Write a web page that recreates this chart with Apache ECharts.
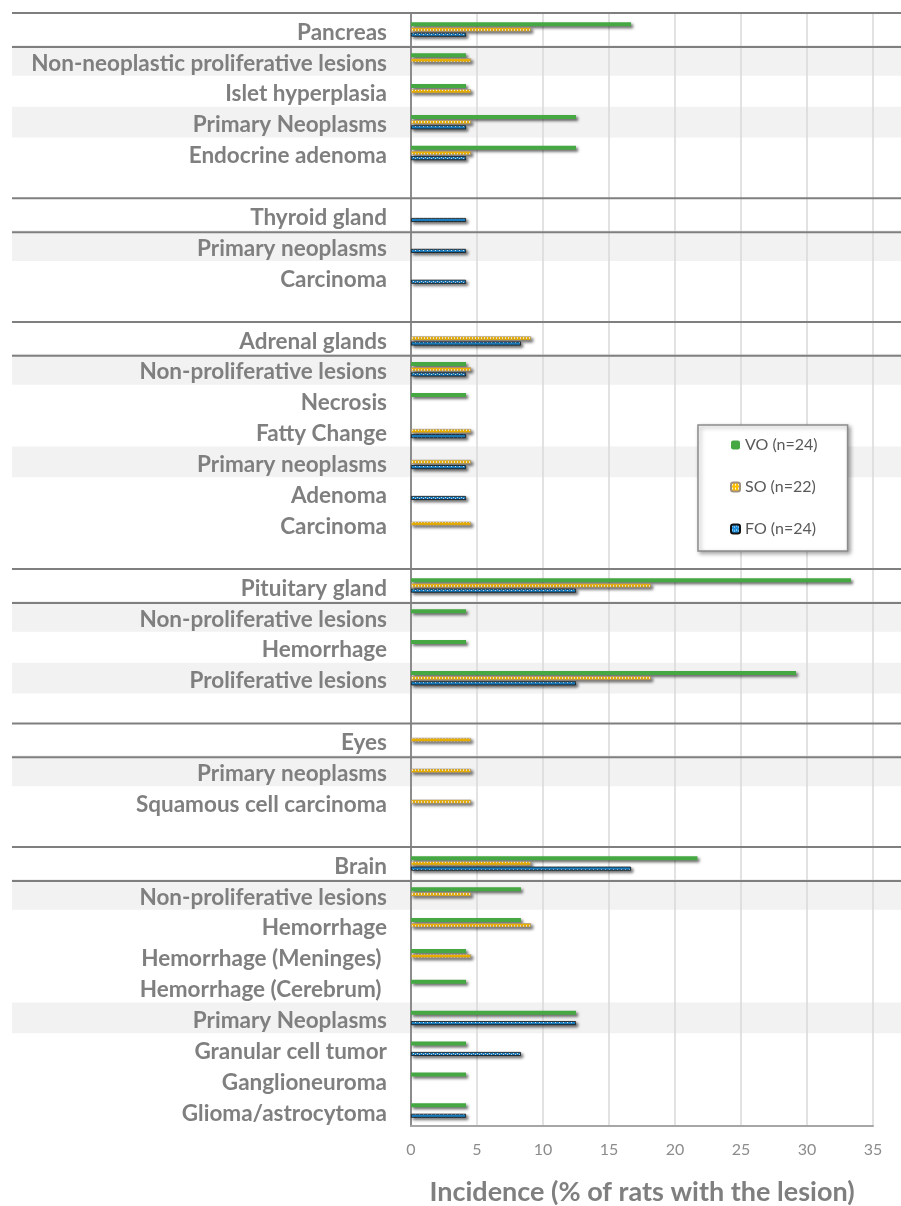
<!DOCTYPE html>
<html><head><meta charset="utf-8">
<script src="https://cdn.jsdelivr.net/npm/echarts@6/dist/echarts.min.js"></script>
<style>html,body{margin:0;padding:0;background:#fff}#c{width:901px;height:1206px}</style>
</head><body><div id="c"></div>
<script>
const categories = [
 'Pancreas','Non-neoplastic proliferative lesions','Islet hyperplasia','Primary Neoplasms','Endocrine adenoma','',
 'Thyroid gland','Primary neoplasms','Carcinoma',' ',
 'Adrenal glands','Non-proliferative lesions','Necrosis','Fatty Change','Primary neoplasms','Adenoma','Carcinoma','  ',
 'Pituitary gland','Non-proliferative lesions','Hemorrhage','Proliferative lesions','   ',
 'Eyes','Primary neoplasms','Squamous cell carcinoma','    ',
 'Brain','Non-proliferative lesions','Hemorrhage','Hemorrhage (Meninges) ','Hemorrhage (Cerebrum) ','Primary Neoplasms','Granular cell tumor','Ganglioneuroma','Glioma/astrocytoma'
];
const VO = [16.67,4.17,4.17,12.5,12.5,null, null,null,null,null, null,4.17,4.17,null,null,null,null,null, 33.33,4.17,4.17,29.17,null, null,null,null,null, 21.7,8.33,8.33,4.17,4.17,12.5,4.17,4.17,4.17];
const SO = [9.09,4.55,4.55,4.55,4.55,null, null,null,null,null, 9.09,4.55,null,4.55,4.55,null,4.55,null, 18.18,null,null,18.18,null, 4.55,4.55,4.55,null, 9.09,4.55,9.09,4.55,null,null,null,null,null];
const FO = [4.17,null,null,4.17,4.17,null, 4.17,4.17,4.17,null, 8.33,4.17,null,4.17,4.17,4.17,null,null, 12.5,null,null,12.5,null, null,null,null,null, 16.67,null,null,null,null,12.5,8.33,null,4.17];
const seriesNames = ['VO (n=24)','SO (n=22)','FO (n=24)'];
const xTicks = {min:0, max:35, interval:5};
const organRows = [0,6,10,18,23,27];
const shadedRows = [1,3,7,11,14,19,21,24,28,32];

function pattern(w,h,bg,draw){
  const c=document.createElement('canvas');c.width=w;c.height=h;
  const g=c.getContext('2d');g.fillStyle=bg;g.fillRect(0,0,w,h);draw(g);
  return {image:c,repeat:'repeat'};
}
const soPat = pattern(3,4,'#FFC000',g=>{g.fillStyle='#fff8e0';g.fillRect(1,1,1,2);});
const foPat = pattern(4,4,'#1E8FD8',g=>{g.fillStyle='#e6f4ff';g.fillRect(1,1,1,1);g.fillRect(3,2,1,1);});

const chart = echarts.init(document.getElementById('c'));
const shadow = {shadowColor:'rgba(0,0,0,0.6)',shadowBlur:3,shadowOffsetX:2,shadowOffsetY:2};
const FONT = 'Lato, "Open Sans", sans-serif';
chart.setOption({
  animation:false,
  backgroundColor:'#fff',
  grid:{left:411,right:28,top:14,bottom:80,containLabel:false,outerBoundsMode:'none'},
  legend:{
    data:seriesNames, orient:'vertical', left:698, top:425,
    padding:[12,30,14,32], itemGap:26, itemWidth:9, itemHeight:9,
    backgroundColor:'#fff', borderColor:'#8c8c8c', borderWidth:1.5,
    shadowColor:'rgba(0,0,0,0.35)', shadowBlur:4, shadowOffsetX:2, shadowOffsetY:2,
    textStyle:{fontSize:16,color:'#595959',fontFamily:FONT}
  },
  xAxis:{
    type:'value', min:xTicks.min, max:xTicks.max, interval:xTicks.interval,
    axisLine:{show:true,lineStyle:{color:'#a6a6a6',width:2}},
    axisTick:{show:false},
    splitLine:{show:true,lineStyle:{color:'#d9d9d9',width:1.5}},
    axisLabel:{fontSize:16,color:'#8c8c8c',margin:16,fontFamily:FONT},
    name:'Incidence (% of rats with the lesion)', nameLocation:'middle', nameGap:53,
    nameTextStyle:{fontSize:27,fontWeight:'bold',color:'#7f7f7f',fontFamily:FONT}
  },
  yAxis:{
    type:'category', data:categories, inverse:true,
    axisLine:{show:true,lineStyle:{color:'#8c8c8c',width:2}},
    axisTick:{show:false},
    axisLabel:{fontSize:22.5,fontWeight:'bold',color:'#7f7f7f',margin:24,fontFamily:FONT,interval:0,
               verticalAlign:'top',lineHeight:6}
  },
  series:[
    {name:seriesNames[0],type:'bar',data:VO,barWidth:4,barGap:'30%',barCategoryGap:'50%',
     itemStyle:Object.assign({color:'#46A843'},shadow)},
    {name:seriesNames[1],type:'bar',data:SO,barWidth:4,barGap:'30%',
     itemStyle:Object.assign({color:soPat,borderColor:'#a09080',borderWidth:0.6},shadow)},
    {name:seriesNames[2],type:'bar',data:FO,barWidth:4,barGap:'30%',
     itemStyle:Object.assign({color:foPat,borderColor:'#111',borderWidth:0.8},shadow)}
  ]
});

const y0 = chart.convertToPixel({yAxisIndex:0},0);
const y1 = chart.convertToPixel({yAxisIndex:0},1);
const band = y1-y0;
const gr = [];
shadedRows.forEach(r=>{
  const cy = chart.convertToPixel({yAxisIndex:0},r);
  gr.push({type:'rect',z:-10,silent:true,shape:{x:12,y:cy-band/2,width:889,height:band},style:{fill:'#f2f2f2'}});
});
organRows.forEach(r=>{
  const cy = chart.convertToPixel({yAxisIndex:0},r);
  [cy-band/2-1, cy+band/2+2].forEach(yy=>{
    gr.push({type:'line',z:50,silent:true,shape:{x1:12,y1:yy,x2:901,y2:yy},style:{stroke:'#7f7f7f',lineWidth:2}});
  });
});
chart.setOption({graphic:gr});
</script></body></html>
